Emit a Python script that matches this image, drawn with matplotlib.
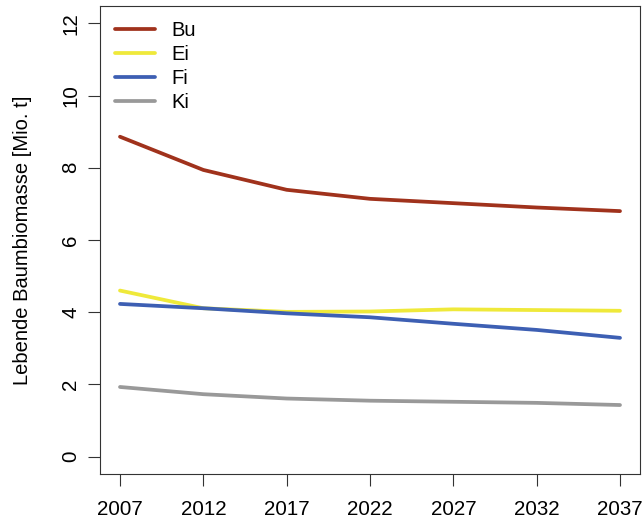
import matplotlib
matplotlib.use("Agg")
import matplotlib.pyplot as plt

plt.rcParams['font.family'] = ['Liberation Sans', 'DejaVu Sans']

years = [2007, 2012, 2017, 2022, 2027, 2032, 2037]
bu = [8.86, 7.94, 7.39, 7.14, 7.02, 6.90, 6.80]
ei = [4.60, 4.11, 4.01, 4.02, 4.08, 4.06, 4.04]
fi = [4.23, 4.11, 3.97, 3.86, 3.68, 3.51, 3.29]
ki = [1.93, 1.73, 1.61, 1.55, 1.52, 1.49, 1.43]
series = [("Bu", bu, "#a0321c"), ("Ei", ei, "#efe93a"),
          ("Fi", fi, "#3d5fb3"), ("Ki", ki, "#999999")]
yticks = [0, 2, 4, 6, 8, 10, 12]

fig = plt.figure(figsize=(6.43, 5.28), dpi=100)
ax = fig.add_axes([100 / 643, 54 / 528, 540 / 643, 468 / 528])
for name, vals, col in series:
    ax.plot(years, vals, color=col, lw=2.7, label=name, solid_capstyle="round")

ax.set_xlim(2007 - 1.2, 2037 + 1.2)
ax.set_ylim(-0.48, 12.48)
ax.set_xticks(years)
ax.set_yticks(yticks)
ax.set_yticklabels([str(t) for t in yticks], rotation=90, va="center")
ax.tick_params(length=8.3, width=0.8, labelsize=14.8, color="#333333")
ax.tick_params(axis="y", pad=6)
ax.tick_params(axis="x", pad=10.5)
for s in ax.spines.values():
    s.set_linewidth(0.8)
    s.set_color("#333333")
ax.set_ylabel("Lebende Baumbiomasse [Mio. t]", fontsize=14.5, labelpad=21)

ax.legend(loc="upper left", bbox_to_anchor=(0.0, 1.0), frameon=False,
          fontsize=14.5, handlelength=2.0, handletextpad=0.8,
          labelspacing=0.24, borderaxespad=0.35)

fig.savefig("out.png", dpi=100)
